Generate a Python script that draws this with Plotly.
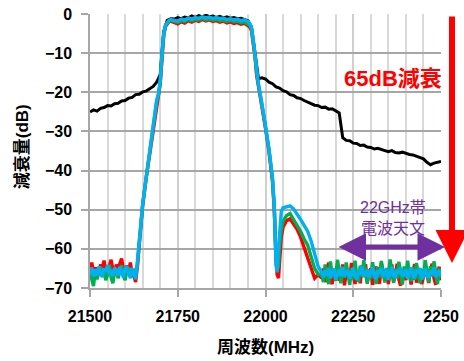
import plotly.graph_objects as go

# ---------------- data ----------------
# Black trace (reference / unfiltered), sampled every 10 MHz
black_freq = list(range(21500, 22501, 10))
black_db = [
    -25.0, -24.5, -24.8, -24.1, -23.9, -23.4, -23.5, -22.9, -22.8, -22.2,
    -22.1, -21.5, -21.3, -20.6, -20.5, -19.9, -19.7, -19.0, -18.5, -17.4,
    -15.5, -4.5, -1.6, -1.2, -1.3, -0.9, -1.2, -0.8, -1.0, -0.5,
    -0.9, -0.4, -0.8, -0.3, -0.7, -0.5, -0.9, -0.6, -1.0, -0.7,
    -1.1, -0.9, -1.2, -1.1, -1.4, -1.7, -3.3, -10.0, -16.5, -16.3,
    -16.6, -17.4, -17.8, -18.6, -18.9, -19.6, -19.9, -20.6, -20.8, -21.4,
    -21.6, -22.1, -22.5, -22.8, -23.3, -23.4, -23.9, -23.8, -24.3, -24.2,
    -24.7, -25.3, -31.6, -32.3, -32.4, -33.0, -33.1, -33.6, -33.5, -34.0,
    -34.1, -34.5, -34.3, -34.7, -34.9, -35.2, -34.9, -35.4, -35.5, -35.3,
    -35.7, -35.9, -36.0, -36.3, -36.5, -37.0, -37.9, -38.5, -38.1, -37.8,
    -37.7,
]

# Shared frequency grid of the three filter traces
freq_low_floor = list(range(21500, 21631, 5))
freq_rise = [21635, 21640, 21650, 21660, 21670, 21680, 21690, 21695, 21700,
             21705, 21710, 21715, 21720, 21725, 21730]
freq_pass = list(range(21740, 21951, 10))
freq_fall = [21955, 21960, 21965, 21970, 21975, 21980, 21990, 22000, 22010,
             22020, 22025, 22030, 22033, 22037, 22040, 22045, 22050, 22060,
             22070, 22080, 22090, 22100, 22110, 22120, 22130, 22140, 22150]
freq_high_floor = list(range(22160, 22501, 5))
filt_freq = freq_low_floor + freq_rise + freq_pass + freq_fall + freq_high_floor

red_db = [
    # low floor
    -65.5, -63.5, -66.0, -64.8, -65.5, -66.2, -64.0, -65.0, -63.0, -65.5,
    -66.0, -64.5, -62.8, -65.2, -66.3, -64.0, -65.5, -63.8, -62.5, -65.0,
    -66.0, -64.2, -65.5, -63.5, -66.5, -67.0, -68.5,
    # rise
    -64.5, -59.0, -49.0, -42.0, -35.5, -29.0, -22.5, -20.8, -17.8, -11.0,
    -5.5, -3.2, -2.4, -2.0, -1.8,
    # passband
    -2.2, -2.5, -2.0, -2.3, -1.7, -2.1, -1.6, -1.9, -1.4, -1.8, -1.5,
    -1.9, -1.7, -2.1, -1.8, -2.3, -2.0, -2.4, -2.2, -2.6, -2.4, -2.9,
    # fall + spurious bump
    -3.3, -4.2, -7.2, -10.8, -15.8, -18.8, -23.8, -29.2, -35.2, -42.8,
    -50.0, -62.5, -66.5, -67.5, -62.0, -57.0, -54.5, -52.8, -52.3, -53.5,
    -55.0, -57.0, -59.5, -62.0, -65.0, -67.5, -66.5,
    # high floor
    -67.5, -65.0, -68.5, -66.0, -63.5, -67.8, -69.0, -65.5, -66.8, -63.8,
    -68.2, -66.5, -64.0, -69.3, -66.0, -65.2, -68.0, -63.6, -67.0, -69.0,
    -65.8, -66.5, -68.8, -64.2, -67.2, -63.9, -68.5, -66.0, -65.0, -69.2,
    -66.8, -64.5, -67.5, -68.9, -63.7, -66.2, -67.8, -65.4, -69.0, -66.0,
    -64.0, -68.3, -66.7, -63.8, -67.9, -69.4, -65.5, -66.3, -68.0, -64.1,
    -67.0, -69.1, -65.8, -63.9, -68.6, -66.4, -65.0, -69.0, -67.2, -64.3,
    -66.8, -68.7, -65.3, -63.8, -67.5, -69.2, -66.0, -64.6, -68.0,
]

green_db = [
    # low floor
    -66.0, -67.5, -69.5, -65.5, -67.8, -66.2, -64.5, -67.0, -65.8, -68.0,
    -66.5, -64.0, -67.2, -68.8, -66.0, -65.0, -67.5, -65.8, -64.2, -66.8,
    -68.0, -65.5, -66.2, -64.8, -67.0, -66.5, -65.0,
    # rise
    -64.2, -58.8, -48.8, -41.8, -35.2, -28.8, -22.3, -20.6, -17.6, -10.8,
    -5.3, -3.0, -2.2, -1.8, -1.6,
    # passband
    -1.9, -2.1, -1.7, -1.9, -1.4, -1.7, -1.3, -1.5, -1.1, -1.5, -1.2,
    -1.6, -1.3, -1.7, -1.5, -1.9, -1.6, -2.0, -1.8, -2.2, -2.0, -2.5,
    # fall + spurious bump
    -2.9, -3.8, -6.9, -10.4, -15.4, -18.4, -23.4, -28.8, -34.8, -42.4,
    -49.5, -63.0, -65.0, -64.5, -59.0, -55.0, -53.0, -51.5, -51.0, -52.5,
    -54.0, -55.5, -57.5, -59.0, -62.0, -65.0, -66.5,
    # high floor
    -66.5, -68.5, -64.0, -66.8, -69.0, -63.2, -67.0, -65.5, -68.2, -62.8,
    -66.3, -68.8, -64.8, -67.4, -63.5, -66.0, -69.2, -65.0, -67.8, -63.0,
    -66.7, -68.4, -64.3, -67.1, -62.9, -66.2, -68.9, -65.3, -67.6, -63.4,
    -66.0, -69.0, -64.6, -67.3, -63.1, -66.5, -68.6, -64.9, -67.0, -62.7,
    -66.2, -68.7, -65.1, -67.5, -63.3, -66.4, -69.1, -64.5, -67.2, -63.0,
    -66.6, -68.3, -64.7, -67.9, -63.6, -66.1, -68.8, -65.2, -67.4, -62.9,
    -66.3, -68.5, -64.4, -67.0, -63.2, -66.8, -69.0, -65.0, -67.3,
]

blue_db = [
    # low floor
    -66.5, -64.8, -67.0, -65.2, -66.8, -64.5, -66.0, -67.2, -65.0, -65.8,
    -64.2, -66.5, -65.3, -67.0, -64.8, -65.5, -66.8, -64.6, -65.9, -67.3,
    -65.1, -64.4, -66.2, -67.5, -65.0, -66.0, -67.8,
    # rise
    -64.0, -58.5, -48.5, -41.5, -35.0, -28.5, -22.0, -20.5, -17.0, -10.0,
    -5.0, -2.8, -2.0, -1.6, -1.4,
    # passband
    -1.5, -1.8, -1.3, -1.5, -1.0, -1.3, -0.9, -1.1, -0.7, -1.0, -0.8,
    -1.1, -0.9, -1.2, -1.0, -1.4, -1.2, -1.5, -1.3, -1.7, -1.5, -1.9,
    # fall + spurious bump
    -2.4, -3.3, -6.5, -10.0, -15.0, -18.0, -23.0, -28.5, -34.5, -42.0,
    -49.0, -64.0, -66.0, -60.0, -55.0, -50.5, -49.5, -49.3, -49.0, -49.8,
    -51.0, -52.5, -54.0, -55.5, -58.0, -61.5, -64.5,
    # high floor
    -66.0, -67.2, -65.5, -66.8, -64.9, -67.5, -66.2, -65.0, -67.8, -66.4,
    -65.2, -66.9, -64.6, -67.0, -66.1, -65.4, -67.6, -66.3, -64.8, -66.7,
    -67.9, -65.6, -66.0, -64.5, -67.1, -66.6, -65.3, -67.4, -66.2, -64.7,
    -66.9, -67.7, -65.5, -66.3, -64.9, -67.2, -66.0, -65.1, -67.9, -66.5,
    -64.6, -66.8, -67.3, -65.4, -66.1, -64.8, -67.0, -66.4, -65.2, -67.6,
    -66.0, -64.7, -66.9, -67.5, -65.3, -66.2, -64.9, -67.8, -66.6, -65.0,
    -66.7, -67.4, -65.6, -66.1, -64.8, -67.2, -66.3, -65.5, -67.0,
]

x_tick_vals = [21500, 21750, 22000, 22250, 22500]
x_tick_text = ["21500", "21750", "22000", "22250", "2250"]
y_tick_vals = [0, -10, -20, -30, -40, -50, -60, -70]

# ---------------- figure ----------------
FONT = "Liberation Sans, Arial, Noto Sans CJK JP, sans-serif"
CJK = "Liberation Sans, Noto Sans CJK JP, sans-serif"

fig = go.Figure()
for name, ys, col, fx, w in [
    ("ref", black_db, "#000000", black_freq, 3.0),
    ("f1", red_db, "#FF0000", filt_freq, 3.4),
    ("f2", green_db, "#00B050", filt_freq, 3.4),
    ("f3", blue_db, "#00B0F0", filt_freq, 3.4),
]:
    fig.add_trace(go.Scatter(x=fx, y=ys, mode="lines", name=name,
                             line=dict(color=col, width=w),
                             showlegend=False, hoverinfo="skip"))

fig.update_layout(
    width=464, height=361,
    margin=dict(l=90, r=23, t=14, b=73),
    paper_bgcolor="white", plot_bgcolor="white",
    font=dict(family=FONT, color="#000000"),
)

fig.update_xaxes(
    range=[21500, 22500], automargin=False,
    tickmode="array", tickvals=x_tick_vals, ticktext=x_tick_text,
    tickfont=dict(size=16, family=FONT, color="#000000", weight="bold"),
    ticks="outside", ticklen=7, tickcolor="#a6a6a6", tickwidth=1.5,
    ticklabelstandoff=6,
    showgrid=True, gridcolor="#cfcfcf", gridwidth=1.5,
    minor=dict(tickmode="linear", tick0=21500, dtick=50, showgrid=True,
               gridcolor="#d9d9d9", gridwidth=1.5, ticks=""),
    showline=True, linecolor="#a6a6a6", linewidth=1.5,
    zeroline=False,
)
fig.update_yaxes(
    range=[-70, 0], automargin=False,
    tickmode="array", tickvals=y_tick_vals,
    tickfont=dict(size=16, family=FONT, color="#000000", weight="bold"),
    ticks="outside", ticklen=7, tickcolor="#a6a6a6", tickwidth=1.5,
    ticklabelstandoff=6,
    showgrid=True, gridcolor="#a6a6a6", gridwidth=1.5,
    showline=True, linecolor="#a6a6a6", linewidth=1.5,
    zeroline=False,
)

# axis titles placed as annotations
fig.add_annotation(
    text="周波数(MHz)", xref="paper", yref="paper", x=0.501, y=-0.215,
    xanchor="center", yanchor="middle", showarrow=False,
    font=dict(size=17, family=CJK, color="#000000", weight="bold"),
)
fig.add_annotation(
    text="減衰量(dB)", xref="paper", yref="paper", x=-0.19, y=0.515,
    xanchor="center", yanchor="middle", showarrow=False, textangle=-90,
    font=dict(size=17, family=CJK, color="#000000", weight="bold"),
)

PURPLE = "#7030A0"
fig.add_annotation(
    text="65dB減衰", xref="paper", yref="paper", x=1.008, y=0.766,
    xanchor="right", yanchor="middle", showarrow=False,
    font=dict(size=22, family=CJK, color="#FF0000", weight="bold"),
)
fig.add_annotation(
    text="", xref="paper", yref="paper", x=1.0313, y=0.0912,
    ax=0, ay=-248, axref="pixel", ayref="pixel",
    showarrow=True, arrowhead=2, arrowsize=1.1, arrowwidth=6,
    arrowcolor="#FF0000",
)
fig.add_annotation(
    text="22GHz帯<br>電波天文", xref="paper", yref="paper", x=0.863, y=0.257,
    xanchor="center", yanchor="middle", showarrow=False,
    font=dict(size=16, family=CJK, color=PURPLE),
)
fig.add_annotation(
    text="", xref="paper", yref="paper", x=1.0114, y=0.1496,
    ax=-108, ay=0, axref="pixel", ayref="pixel",
    showarrow=True, arrowhead=2, arrowsize=1.1, arrowwidth=5,
    arrowside="end+start", arrowcolor=PURPLE,
)

fig.write_html(
    "out.html",
    config={"displayModeBar": False},
    post_script="document.body.style.margin='0';"
                "document.body.style.overflow='hidden';",
)
